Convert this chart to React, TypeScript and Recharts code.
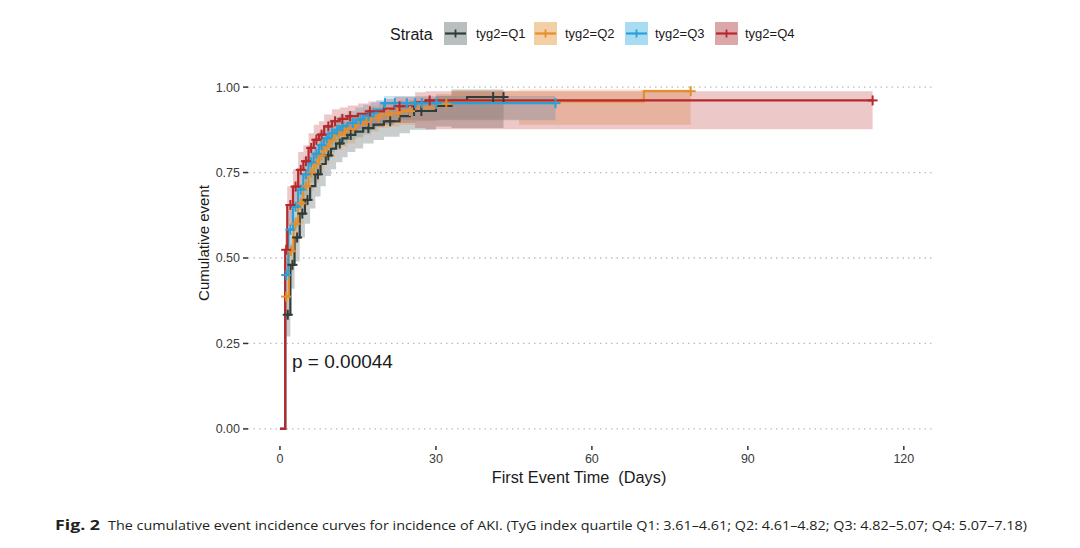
import React from 'react';
import { ComposedChart, Line, Area, Scatter, XAxis, YAxis, ReferenceLine } from 'recharts';

// ---- axis / legend text ----
const xTicks = [0, 30, 60, 90, 120];
const yTicks = [0, 0.25, 0.5, 0.75, 1];
const strata = ['tyg2=Q1', 'tyg2=Q2', 'tyg2=Q3', 'tyg2=Q4'];
const lineColors = ['#2f3d3c', '#e58e2b', '#2a9fd8', '#b5292c'];
const keyColors = ['#b9bebe', '#f3cfa6', '#a8dcf2', '#dca7a9'];
const pValueText = 'p = 0.00044';

// ---- Q1 ----
const q1Time = [0, 1, 2, 2.8, 3.8, 4.8, 5.8, 6.8, 7.8, 8.8, 9.8, 10.8, 12, 13, 14.5, 16, 18, 20, 23, 25, 30, 33, 36, 43];
const q1Cum = [0, 0.334, 0.48, 0.56, 0.63, 0.67, 0.71, 0.745, 0.775, 0.8, 0.82, 0.835, 0.85, 0.86, 0.87, 0.88, 0.89, 0.9, 0.915, 0.93, 0.945, 0.96, 0.971, 0.971];
const q1Lower = [0, 0.27, 0.41, 0.49, 0.56, 0.6, 0.645, 0.68, 0.71, 0.74, 0.76, 0.78, 0.795, 0.81, 0.82, 0.835, 0.845, 0.855, 0.865, 0.875, 0.885, 0.88, 0.88, 0.88];
const q1Upper = [0, 0.39, 0.54, 0.62, 0.69, 0.73, 0.765, 0.8, 0.83, 0.85, 0.865, 0.88, 0.895, 0.9, 0.91, 0.918, 0.925, 0.935, 0.95, 0.96, 0.975, 0.993, 0.993, 0.993];
const q1CensorTime = [1.5, 2.4, 3.3, 4.3, 5.3, 7.3, 9.3, 11.5, 13.6, 17, 21.2, 25.8, 27.2, 41, 43];
const q1CensorCum = [0.334, 0.48, 0.56, 0.63, 0.67, 0.745, 0.8, 0.835, 0.86, 0.88, 0.9, 0.93, 0.93, 0.971, 0.971];

// ---- Q2 ----
const q2Time = [0, 1, 1.7, 2.6, 3.5, 4.5, 5.5, 6.5, 7.5, 8.5, 9.5, 10.5, 12, 13, 14.5, 16, 17.5, 19, 21, 23, 26, 30, 33, 46, 70, 79];
const q2Cum = [0, 0.387, 0.52, 0.6, 0.66, 0.71, 0.75, 0.775, 0.8, 0.825, 0.845, 0.86, 0.87, 0.88, 0.89, 0.9, 0.91, 0.92, 0.925, 0.93, 0.94, 0.951, 0.958, 0.958, 0.988, 0.988];
const q2Lower = [0, 0.33, 0.46, 0.54, 0.6, 0.65, 0.695, 0.72, 0.75, 0.775, 0.795, 0.815, 0.825, 0.835, 0.85, 0.86, 0.87, 0.88, 0.885, 0.89, 0.9, 0.905, 0.905, 0.89, 0.89, 0.89];
const q2Upper = [0, 0.44, 0.57, 0.65, 0.71, 0.76, 0.8, 0.82, 0.845, 0.865, 0.885, 0.895, 0.905, 0.915, 0.925, 0.935, 0.943, 0.952, 0.957, 0.962, 0.97, 0.98, 0.99, 0.993, 0.993, 0.993];
const q2CensorTime = [1.2, 2.1, 3, 4, 5, 6, 7, 8, 9, 10, 11.2, 12.5, 14, 16.7, 18.9, 20.8, 22.8, 25, 32, 79];
const q2CensorCum = [0.387, 0.52, 0.6, 0.66, 0.71, 0.75, 0.775, 0.8, 0.825, 0.845, 0.86, 0.87, 0.88, 0.9, 0.91, 0.92, 0.925, 0.93, 0.951, 0.988];

// ---- Q3 ----
const q3Time = [0, 1, 1.6, 2.5, 3.5, 4.5, 5.5, 6.5, 7.5, 8.5, 9.5, 10.5, 11.5, 13, 14.5, 16, 17.5, 18.5, 20, 53];
const q3Cum = [0, 0.45, 0.583, 0.65, 0.7, 0.745, 0.78, 0.805, 0.83, 0.85, 0.865, 0.875, 0.885, 0.895, 0.905, 0.915, 0.925, 0.934, 0.953, 0.953];
const q3Lower = [0, 0.39, 0.52, 0.59, 0.64, 0.685, 0.72, 0.75, 0.775, 0.795, 0.81, 0.825, 0.835, 0.845, 0.855, 0.865, 0.875, 0.885, 0.903, 0.903];
const q3Upper = [0, 0.5, 0.64, 0.7, 0.75, 0.795, 0.83, 0.85, 0.87, 0.89, 0.905, 0.912, 0.92, 0.93, 0.94, 0.948, 0.955, 0.962, 0.974, 0.974];
const q3CensorTime = [1.2, 2, 3, 4, 5, 6, 7, 8, 9, 10, 11, 12, 14, 15.5, 17, 18, 20.2, 22.1, 24.4, 26, 27.3, 30.1, 53];
const q3CensorCum = [0.45, 0.583, 0.65, 0.7, 0.745, 0.78, 0.805, 0.83, 0.85, 0.865, 0.875, 0.885, 0.895, 0.905, 0.915, 0.925, 0.953, 0.953, 0.953, 0.953, 0.953, 0.953, 0.953];

// ---- Q4 ----
const q4Time = [0, 1, 1.4, 2.5, 3.5, 4.5, 5.5, 6.5, 7.5, 8.5, 10, 11.5, 13, 15, 17, 20, 22, 26, 28, 114];
const q4Cum = [0, 0.524, 0.655, 0.709, 0.758, 0.783, 0.822, 0.846, 0.861, 0.885, 0.9, 0.907, 0.915, 0.922, 0.929, 0.937, 0.944, 0.955, 0.961, 0.961];
const q4Lower = [0, 0.46, 0.595, 0.65, 0.7, 0.73, 0.77, 0.795, 0.815, 0.84, 0.855, 0.862, 0.87, 0.877, 0.884, 0.89, 0.895, 0.88, 0.877, 0.877];
const q4Upper = [0, 0.58, 0.71, 0.76, 0.81, 0.83, 0.865, 0.89, 0.9, 0.92, 0.935, 0.94, 0.946, 0.952, 0.958, 0.965, 0.972, 0.985, 0.988, 0.988];
const q4CensorTime = [1.2, 2, 3, 4, 5, 6, 7, 8, 9.3, 10.6, 12, 13.5, 17.3, 23, 28.8, 114];
const q4CensorCum = [0.524, 0.655, 0.709, 0.758, 0.783, 0.822, 0.846, 0.861, 0.885, 0.9, 0.907, 0.915, 0.929, 0.944, 0.961, 0.961];

const makeCurve = (t: number[], v: number[], lo: number[], hi: number[]) =>
  t.map((x, i) => ({ t: x, v: v[i], band: [lo[i], hi[i]] }));
const makeCensor = (t: number[], v: number[]) => t.map((x, i) => ({ t: x, v: v[i] }));

const curves = [
  makeCurve(q1Time, q1Cum, q1Lower, q1Upper),
  makeCurve(q2Time, q2Cum, q2Lower, q2Upper),
  makeCurve(q3Time, q3Cum, q3Lower, q3Upper),
  makeCurve(q4Time, q4Cum, q4Lower, q4Upper),
];
const censors = [
  makeCensor(q1CensorTime, q1CensorCum),
  makeCensor(q2CensorTime, q2CensorCum),
  makeCensor(q3CensorTime, q3CensorCum),
  makeCensor(q4CensorTime, q4CensorCum),
];

const plusShape = (color: string) => (props: any) => {
  const { cx, cy } = props;
  if (cx == null || cy == null) return <g />;
  return (
    <g>
      <line x1={cx - 5} x2={cx + 5} y1={cy} y2={cy} stroke={color} strokeWidth={2} />
      <line x1={cx} x2={cx} y1={cy - 5} y2={cy + 5} stroke={color} strokeWidth={2} />
    </g>
  );
};

const FONT = '"Liberation Sans", Arial, Helvetica, sans-serif';

const legendX = [444, 534, 625, 715];
const legendTextX = [476, 565, 655, 745];

export default function App() {
  return (
    <div style={{ position: 'absolute', left: 0, top: 0, width: 1080, height: 548, background: '#fff' }}>
      <ComposedChart width={1080} height={548} margin={{ top: 70, right: 145, bottom: 0, left: 0 }}>
        <XAxis
          dataKey="t"
          type="number"
          domain={[-6.15, 126]}
          ticks={xTicks}
          allowDataOverflow
          height={102}
          axisLine={false}
          tickSize={4}
          tickMargin={4}
          tickLine={{ stroke: '#333', strokeWidth: 1.5 }}
          tick={{ fill: '#3a3a3a', fontSize: 12.5, fontFamily: FONT }}
        />
        <YAxis
          type="number"
          domain={[-0.05, 1.05]}
          ticks={yTicks}
          allowDataOverflow
          width={248}
          axisLine={false}
          tickSize={5}
          tickMargin={3}
          tickLine={{ stroke: '#333', strokeWidth: 1.5 }}
          tickFormatter={(v: number) => v.toFixed(2)}
          tick={{ fill: '#3a3a3a', fontSize: 12.5, fontFamily: FONT }}
        />
        {yTicks.map((y) => (
          <ReferenceLine key={'g' + y} y={y} stroke="#bdbdbd" strokeDasharray="1.5 4" strokeWidth={1.3} />
        ))}
        {curves.map((d, i) => (
          <Area
            key={'band' + i}
            data={d}
            dataKey="band"
            type="stepAfter"
            stroke="none"
            fill={lineColors[i]}
            fillOpacity={0.26}
            dot={false}
            activeDot={false}
            isAnimationActive={false}
          />
        ))}
        {curves.map((d, i) => (
          <Line
            key={'line' + i}
            data={d}
            dataKey="v"
            type="stepAfter"
            stroke={lineColors[i]}
            strokeWidth={2.2}
            dot={false}
            activeDot={false}
            isAnimationActive={false}
          />
        ))}
        {censors.map((d, i) => (
          <Scatter
            key={'cens' + i}
            data={d}
            dataKey="v"
            shape={plusShape(lineColors[i])}
            isAnimationActive={false}
          />
        ))}
      </ComposedChart>
      <svg
        width={1080}
        height={548}
        style={{ position: 'absolute', left: 0, top: 0, pointerEvents: 'none' }}
      >
        {/* legend */}
        <text x={390} y={39.5} fontSize={16} fontFamily={FONT} fill="#1a1a1a">Strata</text>
        {strata.map((s, i) => (
          <g key={s}>
            <rect x={legendX[i]} y={22} width={23} height={23} fill={keyColors[i]} />
            <line x1={legendX[i] + 1} x2={legendX[i] + 22} y1={33.5} y2={33.5} stroke={lineColors[i]} strokeWidth={2.2} />
            <line x1={legendX[i] + 11.5} x2={legendX[i] + 11.5} y1={29.5} y2={37.5} stroke={lineColors[i]} strokeWidth={1.8} />
            <text x={legendTextX[i]} y={38} fontSize={13} fontFamily={FONT} fill="#1a1a1a">{s}</text>
          </g>
        ))}
        {/* axis titles */}
        <text
          x={203}
          y={243}
          transform="rotate(-90 203 243)"
          textAnchor="middle"
          dominantBaseline="central"
          fontSize={15}
          fontFamily={FONT}
          fill="#1a1a1a"
        >
          Cumulative event
        </text>
        <text
          x={579}
          y={483}
          textAnchor="middle"
          fontSize={16.3}
          fontFamily={FONT}
          fill="#1a1a1a"
          style={{ whiteSpace: 'pre' }}
        >
          {'First Event Time  (Days)'}
        </text>
        {/* p value */}
        <text x={292} y={368} fontSize={19} fontFamily={FONT} fill="#1a1a1a">{pValueText}</text>
        {/* caption */}
        <text x={55} y={530} fontSize={14} fontWeight="bold" fontFamily='"Open Sans", "Noto Sans", sans-serif' fill="#231f20" textLength={45} lengthAdjust="spacingAndGlyphs">
          Fig. 2
        </text>
        <text x={108} y={530} fontSize={13.5} fontFamily='"Open Sans", "Noto Sans", sans-serif' fill="#231f20" textLength={919} lengthAdjust="spacingAndGlyphs">
          The cumulative event incidence curves for incidence of AKI. (TyG index quartile Q1: 3.61–4.61; Q2: 4.61–4.82; Q3: 4.82–5.07; Q4: 5.07–7.18)
        </text>
      </svg>
    </div>
  );
}
